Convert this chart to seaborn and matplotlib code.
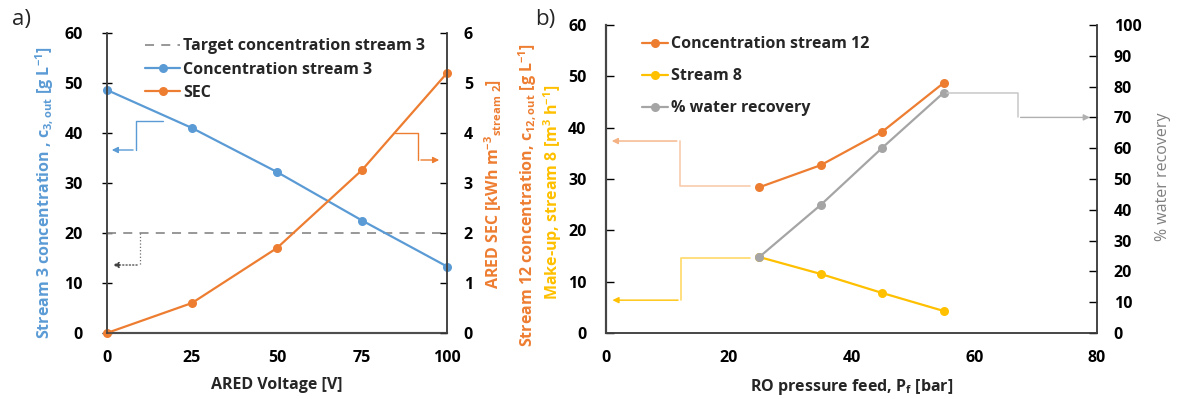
import matplotlib
matplotlib.use("Agg")
import matplotlib.pyplot as plt
import seaborn as sns
import pandas as pd

# ---------------- data ----------------
voltage = [0, 25, 50, 75, 100]
conc_stream3 = [48.6, 41.0, 32.2, 22.5, 13.3]
sec = [0.0, 0.6, 1.7, 3.26, 5.2]
target_conc = 20

pressure = [25, 35, 45, 55]
conc_stream12 = [28.4, 32.7, 39.2, 48.7]
stream8 = [14.8, 11.5, 7.8, 4.3]
water_recovery = [24.7, 41.6, 60.1, 78.0]

a_xticks = [0, 25, 50, 75, 100]
b_xticks = [0, 20, 40, 60, 80]

# ---------------- style ----------------
sns.set_theme(style="white")
FONT = ['Open Sans', 'DejaVu Sans']
plt.rcParams['font.family'] = FONT
plt.rcParams['font.weight'] = 'bold'
plt.rcParams['axes.labelweight'] = 'bold'
plt.rcParams['mathtext.default'] = 'regular'

BLUE = "#5B9BD5"
ORANGE = "#ED7D31"
YELLOW = "#FFC000"
GRAY = "#A5A5A5"
SPINE = "#404040"
FS = 11.5

fig = plt.figure(figsize=(11.78, 3.99), dpi=100)
axa = fig.add_axes([0.0908, 0.1654, 0.2887, 0.7519])
axa2 = axa.twinx()
axb = fig.add_axes([0.5144, 0.1654, 0.4168, 0.7719])
axb2 = axb.twinx()

dfa = pd.DataFrame({"V": voltage, "c3": conc_stream3, "sec": sec})
dfb = pd.DataFrame({"P": pressure, "c12": conc_stream12, "s8": stream8, "wr": water_recovery})

mk = dict(marker="o", markersize=6.5, markeredgewidth=0, lw=1.6, clip_on=False, legend=False)

# ---------------- panel a ----------------
h_target = axa.axhline(target_conc, color="#909090", lw=1.3, ls=(0, (5, 4)),
                       label="Target concentration stream 3", zorder=1)
sns.lineplot(data=dfa, x="V", y="c3", ax=axa, color=BLUE, label="Concentration stream 3", **mk)
sns.lineplot(data=dfa, x="V", y="sec", ax=axa2, color=ORANGE, label="SEC", **mk)

axa.set_xlim(0, 100)
axa.set_ylim(0, 60)
axa2.set_ylim(0, 6)
axa.set_xticks(a_xticks)
axa.set_yticks(range(0, 61, 10))
axa2.set_yticks(range(0, 7))
axa.set_xlabel("ARED Voltage [V]", fontsize=FS, fontweight="bold", labelpad=8)
axa.set_ylabel("")
axa2.set_ylabel("")

# annotation arrows panel a
axa.plot([16.5, 8.5, 8.5], [42.4, 42.4, 36.6], color=BLUE, lw=1.0, clip_on=False)
axa.annotate("", xy=(0.6, 36.6), xytext=(8.5, 36.6),
             arrowprops=dict(arrowstyle="-|>", color=BLUE, lw=1.0, mutation_scale=9))
axa.plot([9.7, 9.7], [20, 13.6], color="#707070", lw=0.9, ls=":")
axa.annotate("", xy=(0.9, 13.6), xytext=(9.7, 13.6),
             arrowprops=dict(arrowstyle="-|>", color="#404040", lw=0.9, ls=":", mutation_scale=9))
axa2.plot([84.7, 91.5, 91.5], [4.0, 4.0, 3.46], color=ORANGE, lw=1.0)
axa2.annotate("", xy=(98.5, 3.46), xytext=(91.5, 3.46),
              arrowprops=dict(arrowstyle="-|>", color=ORANGE, lw=1.0, mutation_scale=9))

handles = [h_target, axa.get_lines()[1], axa2.get_lines()[0]]
axa.legend(handles=handles, labels=[h.get_label() for h in handles],
           loc="upper left", bbox_to_anchor=(0.07, 1.03), frameon=False,
           handlelength=2.2, handletextpad=0.2, labelspacing=0.45,
           prop=dict(family=FONT, weight="bold", size=FS))

# ---------------- panel b ----------------
sns.lineplot(data=dfb, x="P", y="c12", ax=axb, color=ORANGE, label="Concentration stream 12", **mk)
sns.lineplot(data=dfb, x="P", y="s8", ax=axb, color=YELLOW, label="Stream 8", **mk)
sns.lineplot(data=dfb, x="P", y="wr", ax=axb2, color=GRAY, label="% water recovery", **mk)

axb.set_xlim(0, 80)
axb.set_ylim(0, 60)
axb2.set_ylim(0, 100)
axb.set_xticks(b_xticks)
axb.set_yticks(range(0, 61, 10))
axb2.set_yticks(range(0, 101, 10))
axb.set_xlabel("RO pressure feed, P$_f$ [bar]", fontsize=FS, fontweight="bold", labelpad=8)
axb.set_ylabel("")
axb2.set_ylabel("")

# annotation arrows panel b
axb.plot([23.4, 12.0, 12.0], [28.6, 28.6, 37.4], color="#F8CBAD", lw=1.2)
axb.annotate("", xy=(0.5, 37.4), xytext=(12.0, 37.4),
             arrowprops=dict(arrowstyle="-|>", color="#F4B183", lw=1.0, mutation_scale=9))
axb.plot([23.4, 12.2, 12.2], [14.6, 14.6, 6.4], color="#FFD966", lw=1.2)
axb.annotate("", xy=(0.6, 6.4), xytext=(12.2, 6.4),
             arrowprops=dict(arrowstyle="-|>", color=YELLOW, lw=1.0, mutation_scale=9))
axb2.plot([55.5, 67.1, 67.1], [78.0, 78.0, 70.0], color="#C8C8C8", lw=1.1)
axb2.annotate("", xy=(79.3, 70.0), xytext=(67.1, 70.0),
              arrowprops=dict(arrowstyle="-|>", color="#B0B0B0", lw=1.0, mutation_scale=9))

hb = [axb.get_lines()[0], axb.get_lines()[1], axb2.get_lines()[0]]
axb.legend(handles=hb, labels=[h.get_label() for h in hb], loc="upper left",
           bbox_to_anchor=(0.045, 1.01), frameon=False, handlelength=1.6,
           handletextpad=0.2, labelspacing=1.0,
           prop=dict(family=FONT, weight="bold", size=FS))

# ---------------- spines & ticks ----------------
for ax in (axa, axa2, axb, axb2):
    ax.spines["top"].set_visible(False)
    for s in ("left", "right", "bottom"):
        ax.spines[s].set_color(SPINE)
        ax.spines[s].set_linewidth(1.1)
    ax.tick_params(labelsize=FS, colors="black", width=1.0, length=5)

axa.spines["bottom"].set_color("#808080")
axa.spines["bottom"].set_linewidth(1.6)
axa.tick_params(axis="x", length=0, pad=12)
axa.tick_params(axis="y", direction="inout", length=7, pad=14)
axa2.tick_params(axis="y", direction="in", length=5, pad=12)
axb.spines["left"].set_color("#595959")
axb.spines["left"].set_linewidth(1.6)
axb.tick_params(axis="x", direction="in", length=6, pad=12)
axb.tick_params(axis="y", direction="in", length=6, pad=14)
axb2.tick_params(axis="y", direction="in", length=6, pad=12)

# ---------------- y labels ----------------
txt = dict(rotation=90, ha="center", va="center", fontsize=FS, fontweight="bold", family=FONT)
fig.text(45 / 1178, 1 - 193 / 399, "Stream 3 concentration , c$_{3,out}$ [g L$^{-1}$]",
         color=BLUE, **txt)
fig.text(493 / 1178, 1 - 184 / 399, "ARED SEC [kWh m$^{-3}$$_{stream\\ 2}$]",
         color=ORANGE, **txt)
fig.text(528 / 1178, 1 - 195 / 399, "Stream 12 concentration, c$_{12,out}$ [g L$^{-1}$]",
         color=ORANGE, **txt)
fig.text(553 / 1178, 1 - 192 / 399, "Make-up, stream 8 [m$^3$ h$^{-1}$]",
         color=YELLOW, **txt)
fig.text(1163 / 1178, 1 - 177 / 399, "% water recovery", rotation=90, ha="center",
         va="center", color="#808080", fontsize=FS, fontweight="normal", family=FONT)

fig.text(12 / 1178, 1 - 20 / 399, "a)", fontsize=16, fontweight="normal", ha="left",
         va="center", family=FONT)
fig.text(535 / 1178, 1 - 20 / 399, "b)", fontsize=16, fontweight="normal", ha="left",
         va="center", family=FONT)

fig.savefig("out.png", dpi=100)
